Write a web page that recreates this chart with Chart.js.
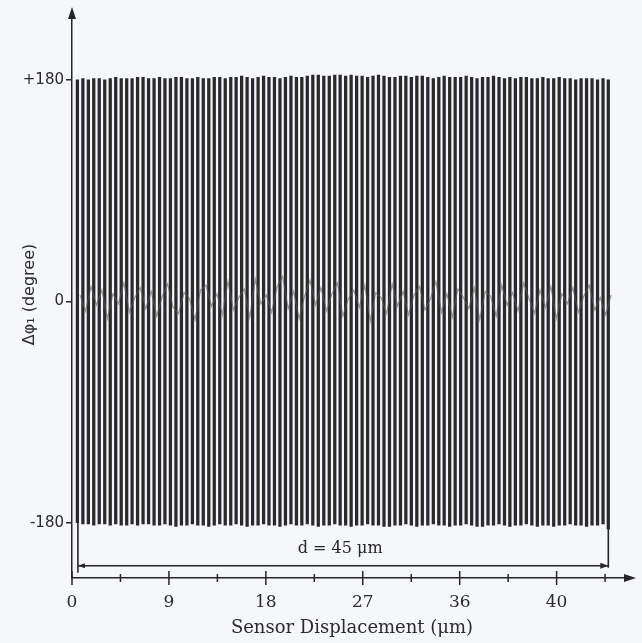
<!DOCTYPE html>
<html lang="en">
<head>
  <meta charset="UTF-8">
  <title>Sensor Displacement</title>
  <script src="https://cdn.jsdelivr.net/npm/chart.js@4.4.1/dist/chart.umd.min.js"></script>
  <style>
    html, body { margin: 0; padding: 0; background: #f6f7fb; }
    #chart-container { width: 642px; height: 643px; }
  </style>
</head>
<body>
  <div id="chart-container">
    <canvas id="chart-canvas"></canvas>
  </div>
  <script>
    // fringe positions (um) where the phase wraps
    const fringePos = [
      0.50, 1.01, 1.52, 2.02, 2.53, 3.04, 3.55, 4.06, 4.57, 5.08,
      5.58, 6.09, 6.60, 7.11, 7.62, 8.13, 8.63, 9.14, 9.65, 10.16,
      10.67, 11.18, 11.68, 12.19, 12.70, 13.21, 13.72, 14.23, 14.74, 15.24,
      15.75, 16.26, 16.77, 17.28, 17.79, 18.29, 18.80, 19.31, 19.82, 20.33,
      20.84, 21.34, 21.85, 22.36, 22.87, 23.38, 23.89, 24.40, 24.90, 25.41,
      25.92, 26.43, 26.94, 27.45, 27.95, 28.46, 28.97, 29.48, 29.99, 30.50,
      31.00, 31.51, 32.02, 32.53, 33.04, 33.55, 34.06, 34.56, 35.07, 35.58,
      36.09, 36.60, 37.11, 37.61, 38.12, 38.63, 39.14, 39.65, 40.16, 40.66,
      41.17, 41.68, 42.19, 42.70, 43.21, 43.72, 44.22, 44.73, 45.24, 45.75,
      46.26, 46.77, 47.27, 47.78, 48.29, 48.80, 49.31, 49.80
    ];
    const fringeTop = [
      180, 181, 180, 181, 181, 180, 181, 182, 181, 181,
      181, 182, 182, 181, 181, 182, 181, 181, 182, 182,
      181, 181, 182, 181, 181, 182, 182, 181, 182, 182,
      183, 182, 181, 182, 183, 182, 182, 181, 182, 183,
      182, 182, 183, 184, 184, 183, 183, 184, 184, 183,
      184, 183, 183, 182, 183, 184, 183, 182, 182, 183,
      183, 182, 183, 183, 182, 181, 182, 183, 182, 182,
      182, 183, 182, 181, 182, 182, 183, 182, 181, 182,
      181, 182, 182, 181, 181, 182, 181, 181, 182, 181,
      181, 180, 181, 181, 181, 180, 181, 180
    ];
    const fringeBottom = [
      -180, -181, -181, -182, -181, -181, -182, -181, -182, -182,
      -181, -182, -181, -181, -182, -182, -181, -182, -183, -182,
      -182, -181, -182, -182, -183, -182, -181, -182, -182, -181,
      -182, -183, -182, -182, -181, -182, -182, -183, -182, -181,
      -182, -182, -181, -182, -183, -182, -182, -181, -182, -182,
      -183, -182, -182, -181, -182, -182, -183, -183, -182, -182,
      -181, -182, -183, -182, -182, -181, -182, -182, -183, -182,
      -182, -181, -182, -183, -183, -182, -182, -181, -182, -183,
      -182, -182, -181, -182, -183, -182, -182, -183, -182, -182,
      -181, -182, -182, -183, -182, -182, -181, -185
    ];
    // residual phase noise around zero, sampled between the fringes
    const noiseVal = [
      5, -8, 12, -3, 9, -14, 6, -2, 15, -9,
      3, 11, -6, 8, -12, 4, 14, -5, -10, 7,
      2, -15, 9, 13, -4, 6, -11, 16, -7, 3,
      10, -13, 18, -2, 5, -9, 12, 20, -6, 8,
      -14, 4, 17, -3, 11, -8, 6, 15, -12, 2,
      9, -5, 13, -16, 7, 3, -10, 14, -4, 8,
      -11, 5, 12, -7, 2, 16, -9, 6, -13, 10,
      3, -6, 11, -15, 8, 4, -12, 13, -3, 7,
      -8, 15, 2, -10, 9, -5, 12, -14, 6, -2,
      11, -9, 4, 13, -7, 3, -11, 5
    ];

    const xMajorTicks = [0, 9, 18, 27, 36, 45];
    const xTickLabels = ['0', '9', '18', '27', '36', '40'];
    const xMinorTicks = [4.5, 13.5, 22.5, 31.5, 40.5, 49.5];
    const yTickValues = [-180, 0, 180];
    const yTickLabels = ['-180', '0', '+180'];

    const dSpan = { from: 0.55, to: 49.8, y: -215, label: 'd = 45 \u03bcm', labelX: 24.9, labelY: -201 };

    const ink = '#262626';

    const fringeData = fringePos.map((x, i) => ({ x: x, y: [fringeBottom[i], fringeTop[i]] }));
    const noiseData = fringePos.map((x, i) => ({ x: x + 0.25, y: noiseVal[i] }));

    const figureExtras = {
      id: 'figureExtras',
      afterDraw(chart) {
        const ctx = chart.ctx;
        const xs = chart.scales.x, ys = chart.scales.y;
        const area = chart.chartArea;
        ctx.save();
        ctx.strokeStyle = ink;
        ctx.fillStyle = ink;
        ctx.lineWidth = 1.5;

        // axis arrow heads
        ctx.beginPath();
        ctx.moveTo(area.left, area.top - 4);
        ctx.lineTo(area.left - 4, area.top + 8);
        ctx.lineTo(area.left + 4, area.top + 8);
        ctx.closePath();
        ctx.fill();
        ctx.beginPath();
        ctx.moveTo(area.right + 4, area.bottom);
        ctx.lineTo(area.right - 8, area.bottom - 4);
        ctx.lineTo(area.right - 8, area.bottom + 4);
        ctx.closePath();
        ctx.fill();

        // x ticks crossing the axis
        xMajorTicks.forEach(v => {
          const px = xs.getPixelForValue(v);
          ctx.beginPath();
          ctx.moveTo(px, area.bottom - 7);
          ctx.lineTo(px, area.bottom + 7);
          ctx.stroke();
        });
        xMinorTicks.forEach(v => {
          const px = xs.getPixelForValue(v);
          ctx.beginPath();
          ctx.moveTo(px, area.bottom - 4);
          ctx.lineTo(px, area.bottom + 4);
          ctx.stroke();
        });

        // d = 45 um span marker
        const x0 = xs.getPixelForValue(dSpan.from);
        const x1 = xs.getPixelForValue(dSpan.to);
        const yl = ys.getPixelForValue(dSpan.y);
        ctx.lineWidth = 1.6;
        ctx.beginPath();
        ctx.moveTo(x0, ys.getPixelForValue(-180));
        ctx.lineTo(x0, yl + 7);
        ctx.moveTo(x0, yl);
        ctx.lineTo(x1, yl);
        ctx.moveTo(x1, ys.getPixelForValue(-182));
        ctx.lineTo(x1, yl + 2);
        ctx.stroke();
        ctx.beginPath();
        ctx.moveTo(x1, yl);
        ctx.lineTo(x1 - 8, yl - 3);
        ctx.lineTo(x1 - 8, yl + 3);
        ctx.closePath();
        ctx.fill();
        ctx.beginPath();
        ctx.moveTo(x0, yl);
        ctx.lineTo(x0 + 7, yl - 2.5);
        ctx.lineTo(x0 + 7, yl + 2.5);
        ctx.closePath();
        ctx.fill();

        ctx.font = '16px "DejaVu Serif"';
        ctx.textAlign = 'center';
        ctx.textBaseline = 'middle';
        ctx.fillText(dSpan.label, xs.getPixelForValue(dSpan.labelX), ys.getPixelForValue(dSpan.labelY));
        ctx.restore();
      }
    };

    document.addEventListener('DOMContentLoaded', function () {
      const ctx = document.getElementById('chart-canvas').getContext('2d');
      new Chart(ctx, {
        type: 'bar',
        data: {
          datasets: [{
            type: 'line',
            label: 'noise',
            data: noiseData,
            borderColor: 'rgba(90,90,90,0.6)',
            borderWidth: 1.3,
            pointRadius: 0,
            order: 0
          }, {
            label: 'phase',
            data: fringeData,
            backgroundColor: '#2a2a2a',
            borderWidth: 0,
            barThickness: 2.6,
            grouped: false,
            order: 1
          }]
        },
        options: {
          responsive: true,
          maintainAspectRatio: false,
          devicePixelRatio: 1,
          animation: false,
          layout: { padding: { top: 10, right: 10, left: 0, bottom: 0 } },
          plugins: { legend: { display: false }, tooltip: { enabled: false } },
          scales: {
            x: {
              type: 'linear',
              offset: false,
              min: 0,
              max: 52,
              afterFit: s => { s.height = 65; },
              afterBuildTicks: s => { s.ticks = xMajorTicks.map(v => ({ value: v })); },
              grid: { display: false, drawTicks: false, offset: false },
              border: { display: true, color: ink, width: 1.5 },
              ticks: {
                autoSkip: false,
                maxRotation: 0,
                padding: 14,
                color: '#2b2b2b',
                font: { family: '"DejaVu Serif"', size: 17 },
                callback: v => xTickLabels[xMajorTicks.indexOf(v)]
              },
              title: {
                display: true,
                text: 'Sensor Displacement (\u03bcm)',
                color: '#2b2b2b',
                font: { family: '"DejaVu Serif"', size: 18 },
                padding: { top: 0, bottom: 4 }
              }
            },
            y: {
              type: 'linear',
              min: -225,
              max: 236,
              afterFit: s => { s.width = 72; },
              afterBuildTicks: s => { s.ticks = yTickValues.map(v => ({ value: v })); },
              grid: { drawOnChartArea: false, drawTicks: true, tickLength: 6, color: ink, lineWidth: 1.5 },
              border: { display: true, color: ink, width: 1.5 },
              ticks: {
                padding: 2,
                color: '#2b2b2b',
                font: { family: '"DejaVu Sans"', size: 15 },
                callback: v => yTickLabels[yTickValues.indexOf(v)]
              },
              title: {
                display: true,
                text: '\u0394\u03c6\u2081 (degree)',
                color: '#2b2b2b',
                font: { family: '"DejaVu Sans"', size: 16 },
                padding: { top: 20, bottom: 0 }
              }
            }
          }
        },
        plugins: [figureExtras]
      });
    });
  </script>
</body>
</html>
